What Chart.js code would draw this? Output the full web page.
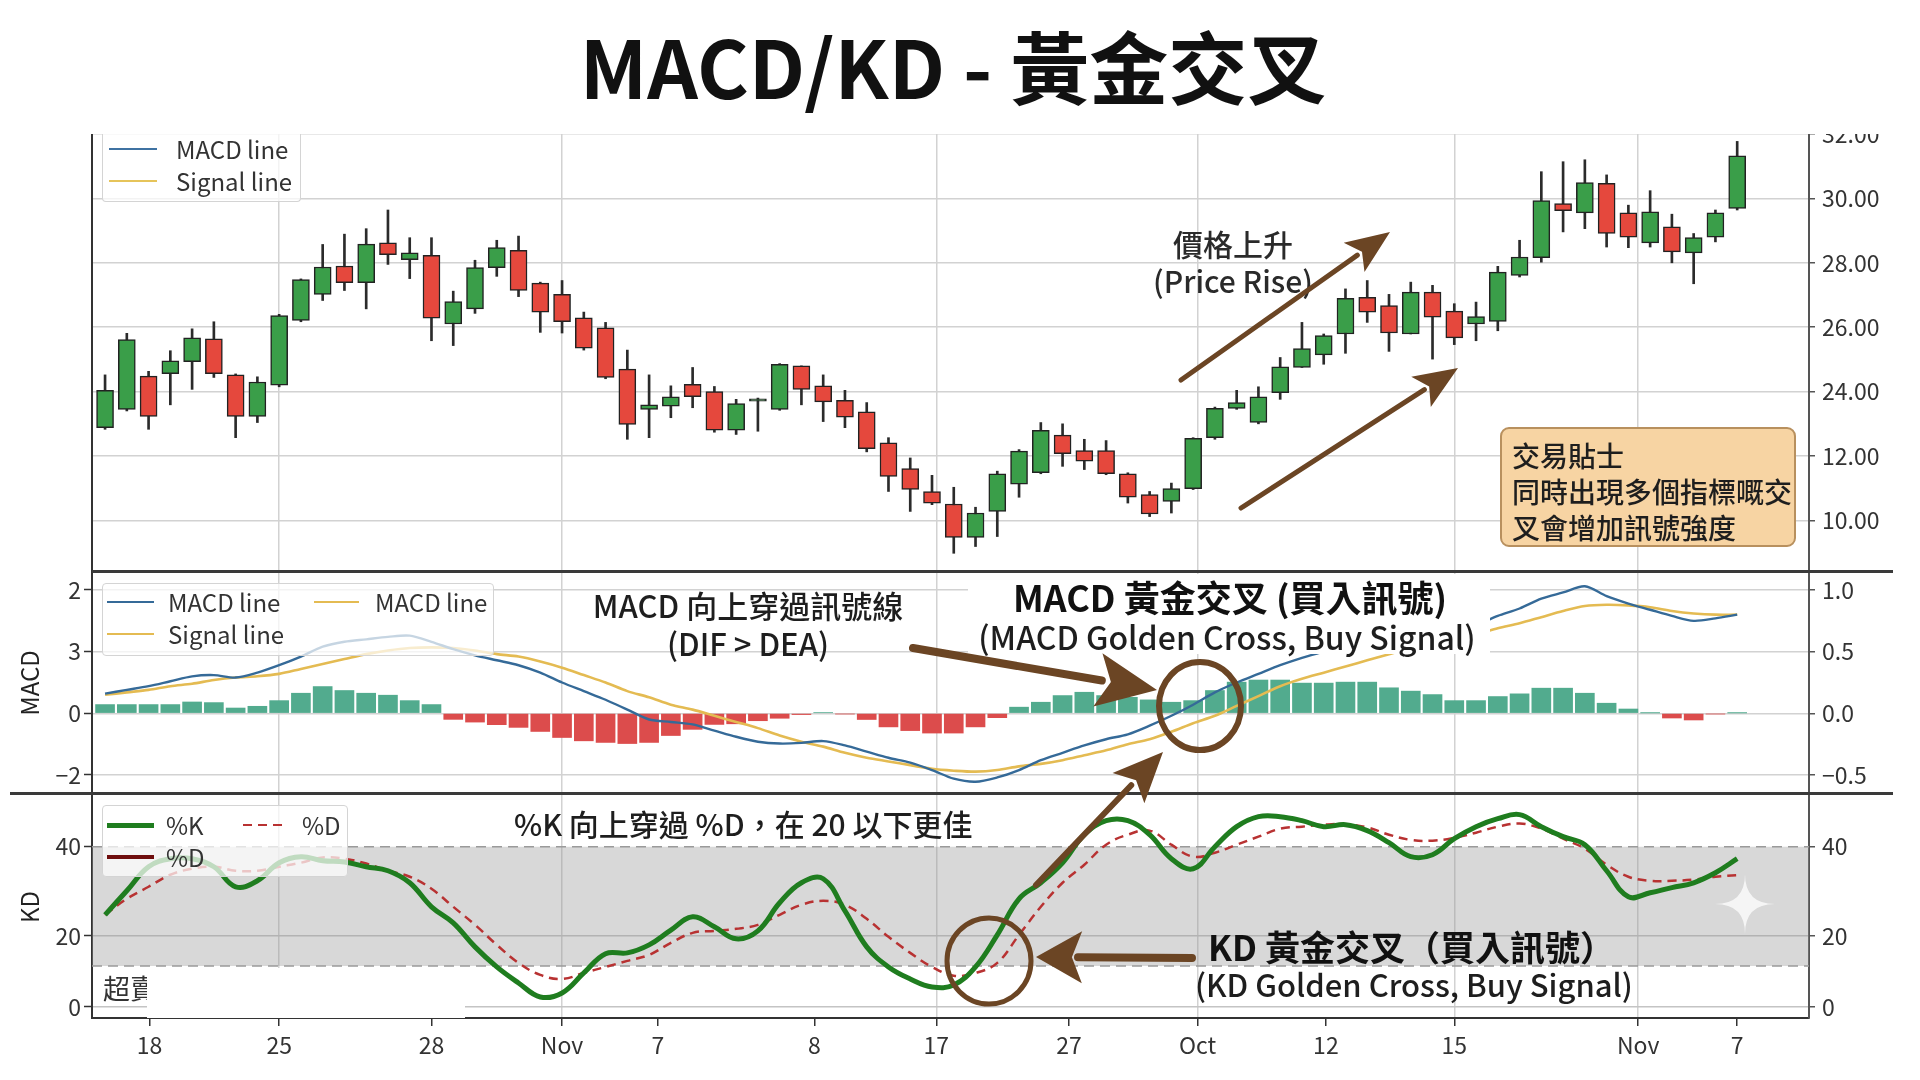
<!DOCTYPE html>
<html>
<head>
<meta charset="utf-8">
<script src="https://cdn.jsdelivr.net/npm/chart.js@4.4.1/dist/chart.umd.min.js"></script>
<style>
body{margin:0;background:#fff;}
#page{position:relative;width:1920px;height:1080px;overflow:hidden;background:#fff;font-family:'Noto Sans CJK TC','Noto Sans',sans-serif;color:#222;}
.pane{position:absolute;left:0;width:1920px;z-index:1;}
.t{position:absolute;white-space:nowrap;line-height:1;z-index:4;}
.lg{position:absolute;background:rgba(255,255,255,0.72);border:1px solid #d4d4d4;border-radius:4px;z-index:3;}
.cover{position:absolute;background:#fff;z-index:2;}
.rule{position:absolute;background:#3a3a3a;z-index:3;}
#tip{position:absolute;left:1500px;top:427px;width:296px;height:120px;background:#f7d4a3;border:2px solid #b8905e;border-radius:9px;z-index:3;box-sizing:border-box;padding:8px 0 0 10px;font-size:28px;line-height:36px;color:#1e1e1e;font-weight:500;}
svg{position:absolute;left:0;top:0;z-index:5;}
</style>
</head>
<body>
<div id="page">
  <div class="pane" style="top:134px;height:437px"><canvas id="priceChart"></canvas></div>
  <div class="pane" style="top:571px;height:222px"><canvas id="macdChart"></canvas></div>
  <div class="pane" style="top:793px;height:287px"><canvas id="kdChart"></canvas></div>
  <div id="tip">交易貼士<br>同時出現多個指標嘅交<br>叉會增加訊號強度</div>
</div>
<script>
// price candles (one per trading day)
const opens  = [22.88,23.45,24.48,24.56,24.93,25.64,24.52,23.23,24.20,26.21,27.02,27.90,27.38,28.62,28.10,28.23,26.10,26.57,27.85,28.39,
                27.37,27.02,26.29,25.98,24.70,23.45,23.55,24.23,24.00,22.80,23.70,23.45,24.80,24.18,23.73,23.37,22.41,21.61,20.90,20.51,
                19.47,20.28,21.13,21.48,22.65,22.17,22.17,21.45,20.80,20.59,20.99,22.57,23.48,23.04,23.97,24.75,25.14,25.79,26.93,26.67,
                25.79,27.09,26.50,26.10,26.18,27.61,28.16,29.84,29.55,30.47,29.55,28.62,29.12,28.31,28.80,29.69];
const highs  = [24.52,25.81,24.63,25.27,25.95,26.17,24.55,24.46,26.40,27.50,28.57,28.89,29.06,29.64,28.78,28.78,27.12,28.08,28.70,28.83,
                27.40,27.45,26.47,26.15,25.29,24.52,24.18,24.75,24.16,23.76,23.80,24.87,24.80,24.52,24.04,23.66,22.57,21.94,21.40,21.03,
                20.41,21.53,22.20,23.04,23.00,22.52,22.48,21.48,20.90,21.16,22.57,23.52,24.04,24.15,25.06,26.15,25.79,27.19,27.45,27.02,
                27.40,27.30,26.73,26.78,27.89,28.70,30.83,31.14,31.20,30.73,29.79,30.24,29.51,28.91,29.64,31.77];
const lows   = [22.83,23.40,22.83,23.59,24.07,24.44,22.57,23.04,24.15,26.17,26.83,27.14,26.57,27.95,27.51,25.58,25.43,26.43,27.58,26.95,
                25.84,25.82,25.29,24.40,22.52,22.57,23.19,23.50,22.74,22.67,22.77,23.42,23.59,23.07,22.88,22.13,20.90,20.28,20.49,18.98,
                19.19,19.50,20.72,21.45,21.68,21.58,21.42,20.54,20.12,20.23,20.96,22.52,23.45,23.00,23.76,24.75,24.85,25.19,26.15,25.25,
                25.79,25.01,25.46,25.58,25.89,27.56,28.02,28.96,29.06,28.49,28.47,28.49,28.00,27.35,28.65,29.64];
const closes = [24.04,25.62,23.23,24.96,25.67,24.56,23.23,24.30,26.36,27.48,27.87,27.38,28.58,28.25,28.31,26.28,26.80,27.85,28.47,27.14,
                26.47,26.17,25.35,24.44,22.98,23.59,23.84,23.84,22.80,23.63,23.78,24.85,24.07,23.68,23.21,22.23,21.37,20.96,20.54,19.47,
                20.23,21.45,22.15,22.80,22.07,21.84,21.45,20.72,20.20,20.99,22.55,23.48,23.66,23.84,24.77,25.34,25.74,26.90,26.47,25.82,
                27.09,26.31,25.67,26.33,27.71,28.18,29.93,29.62,30.49,28.91,28.80,29.58,28.34,28.78,29.55,31.32];

// MACD panel
const macdLine   = [0.16,0.19,0.22,0.26,0.30,0.31,0.29,0.33,0.39,0.46,0.54,0.58,0.60,0.62,0.63,0.58,0.52,0.47,0.43,0.39,
                    0.33,0.25,0.18,0.11,0.03,-0.05,-0.07,-0.09,-0.14,-0.19,-0.23,-0.245,-0.24,-0.225,-0.26,-0.31,-0.36,-0.40,-0.46,-0.53,
                    -0.555,-0.52,-0.46,-0.38,-0.32,-0.26,-0.21,-0.17,-0.10,-0.02,0.07,0.17,0.25,0.32,0.39,0.45,0.50,0.55,0.59,0.62,
                    0.65,0.68,0.70,0.72,0.79,0.85,0.93,0.98,1.03,0.95,0.89,0.84,0.79,0.75,0.77,0.80];
const signalLine = [0.15,0.17,0.19,0.22,0.24,0.27,0.29,0.30,0.32,0.36,0.40,0.44,0.48,0.51,0.53,0.535,0.53,0.51,0.48,0.46,
                    0.42,0.37,0.31,0.25,0.18,0.13,0.07,0.03,-0.02,-0.07,-0.12,-0.18,-0.23,-0.27,-0.32,-0.36,-0.39,-0.42,-0.45,-0.465,
                    -0.473,-0.46,-0.43,-0.41,-0.38,-0.34,-0.30,-0.25,-0.21,-0.15,-0.08,-0.02,0.06,0.14,0.22,0.28,0.33,0.38,0.43,0.48,
                    0.53,0.57,0.61,0.64,0.69,0.73,0.78,0.83,0.87,0.88,0.875,0.86,0.83,0.81,0.80,0.80];
const macdHist   = [0.071,0.071,0.071,0.071,0.092,0.087,0.043,0.057,0.103,0.163,0.217,0.185,0.163,0.147,0.103,0.071,-0.049,-0.071,-0.092,-0.114,
                    -0.147,-0.196,-0.223,-0.236,-0.245,-0.236,-0.18,-0.13,-0.09,-0.085,-0.06,-0.04,-0.01,0.005,-0.005,-0.05,-0.11,-0.14,-0.16,-0.16,
                    -0.11,-0.035,0.05,0.09,0.144,0.171,0.144,0.13,0.109,0.09,0.103,0.185,0.253,0.27,0.27,0.245,0.245,0.253,0.253,0.207,
                    0.18,0.152,0.103,0.103,0.136,0.158,0.204,0.204,0.163,0.082,0.035,0.003,-0.038,-0.054,-0.005,0.003];

// KD panel
const kLine = [23,29,35,37,37,35,30,31.5,36,37.5,36.5,36.2,35,34,31,25,21,15,10,6,
               2.5,3.5,8.5,13.3,13.5,15.5,19.2,22.5,20,17,19,26,31,32,24,15,10,7,5,5.5,
               10,18,27,31,36,43,46.5,46.5,43,37,34.5,40,45,47.5,47.5,46.5,45,45.5,44,41,
               37.5,38,42,45,47,48,45,42.5,40.5,34,27.5,28.5,29.8,31,33.5,37];
const dLine = [23,27,30,33,34.5,35,34,34,35,36,37.3,37,35.8,34,32.5,29.5,25,20.5,15.5,11,
               8,7,8.5,10,11.5,13,16,18.5,19,19.5,20.5,23,25.5,26.5,25.5,22,17.5,13.5,10,7.8,
               8.5,11,18,25,31,35.5,40.5,43,44,40.5,37.5,38.5,40.5,42.5,44.5,45,45.5,45.6,44.8,43,
               41.7,41.5,42.2,43.5,45,45.8,44.5,42,39.5,35.5,32.5,31.5,31.5,31.8,32.5,32.9];
const kdBand = [10.2, 40];

// axes
const xTickPos    = [2.04,8,15,21,25.4,32.6,38.2,44.3,50.2,56.1,62,70.45,75];
const xTickLabels = ['18','25','28','Nov','7','8','17','27','Oct','12','15','Nov','7'];
const xGridOn     = [false,true,false,true,false,false,true,false,true,false,true,true,false];
const priceTicks  = [20,22,24,26,28,30,32];
const priceTickLabels = ['10.00','12.00','24.00','26.00','28.00','30.00','32.00'];
const macdTicks   = [-0.5,0,0.5,1.0];
const macdLeftLabels  = ['\u22122','0','3','2'];
const macdRightLabels = ['\u22120.5','0.0','0.5','1.0'];
const kdTicks     = [0,17.75,40];
const kdTickLabels = ['0','20','40'];

const X_MIN=-0.6, X_MAX=78.3;
const GRID='#d2d2d2', UP='#3a9e49', DOWN='#e5483d', BROWN='#6b4524';
Chart.defaults.font.family="'Noto Sans CJK TC','Noto Sans',sans-serif";
Chart.defaults.color='#333';

function xAxis(showLabels){
    return {type:'linear',min:X_MIN,max:X_MAX,offset:false,
        afterBuildTicks:s=>{s.ticks=xTickPos.map(v=>({value:v}));},
        afterFit:s=>{s.height=showLabels?62:0;s.paddingLeft=0;s.paddingRight=0;},
        ticks:{display:showLabels,autoSkip:false,maxRotation:0,padding:5,font:{size:23},color:'#333',callback:(v,i)=>xTickLabels[i]},
        grid:{offset:false,color:c=>xGridOn[c.index]?GRID:'rgba(0,0,0,0)',lineWidth:1.5,drawTicks:showLabels,tickLength:8,tickColor:'#333',tickWidth:1.5},
        border:{display:showLabels,color:'#333',width:2}};
}
function yAxis(pos,min,max,vals,labels,gridColor){
    let left=pos==='left';
    return {type:'linear',position:pos,min:min,max:max,
        afterBuildTicks:s=>{s.ticks=vals.map(v=>({value:v}));},
        afterFit:s=>{s.width=left?92:111;s.paddingTop=0;s.paddingBottom=0;},
        ticks:{display:!!labels,font:{size:23},color:'#333',padding:left?3:7,callback:(v,i)=>labels?labels[i]:''},
        grid:left?{drawOnChartArea:false,drawTicks:!!labels,tickLength:8,color:'#333',tickWidth:1.5}
                 :{color:gridColor||GRID,lineWidth:1.5,tickLength:6,tickColor:'#555',tickWidth:1.5},
        border:{color:left?'#333':'#555',width:2}};
}
const base={responsive:true,maintainAspectRatio:false,animation:false,devicePixelRatio:1,
    layout:{autoPadding:false,padding:0},plugins:{legend:{display:false},tooltip:{enabled:false}}};

// price candles
new Chart(document.getElementById('priceChart'),{
    type:'bar',
    data:{datasets:[
        {label:'wick',yAxisID:'y',data:lows.map((l,i)=>({x:i,y:[l,highs[i]]})),backgroundColor:'#2b2b2b',barThickness:2,grouped:false,order:2},
        {label:'body',yAxisID:'y',data:opens.map((o,i)=>({x:i,y:[o,closes[i]]})),backgroundColor:opens.map((o,i)=>closes[i]>=o?UP:DOWN),
         borderColor:'#222',borderWidth:1.5,borderSkipped:false,barThickness:17,grouped:false,order:1}
    ]},
    options:{...base,scales:{x:xAxis(false),y:yAxis('right',18.43,32,priceTicks,priceTickLabels),yl:yAxis('left',0,1,[],null)}}
});

// MACD
new Chart(document.getElementById('macdChart'),{
    type:'bar',
    data:{datasets:[
        {label:'hist',yAxisID:'y',data:macdHist.map((v,i)=>({x:i,y:v})),backgroundColor:macdHist.map(v=>v>=0?'#52ab8e':'#dc4c4c'),barThickness:19,grouped:false,order:3},
        {type:'line',yAxisID:'y',label:'Signal line',data:signalLine.map((v,i)=>({x:i,y:v})),borderColor:'#e4bb52',borderWidth:2.6,pointRadius:0,tension:0.3,order:2},
        {type:'line',yAxisID:'y',label:'MACD line',data:macdLine.map((v,i)=>({x:i,y:v})),borderColor:'#356a98',borderWidth:2.4,pointRadius:0,tension:0.3,order:1}
    ]},
    options:{...base,scales:{x:xAxis(false),
        y:yAxis('right',-0.646,1.154,macdTicks,macdRightLabels),
        yl:yAxis('left',-0.646,1.154,macdTicks,macdLeftLabels)}}
});

// KD
new Chart(document.getElementById('kdChart'),{
    type:'line',
    data:{datasets:[
        {label:'band',yAxisID:'y',data:[{x:X_MIN,y:kdBand[1]},{x:X_MAX,y:kdBand[1]}],borderColor:'#9a9a9a',borderDash:[10,6],borderWidth:1.5,
         fill:{value:kdBand[0]},backgroundColor:'rgba(150,150,150,0.37)',pointRadius:0,order:5},
        {label:'low',yAxisID:'y',data:[{x:X_MIN,y:kdBand[0]},{x:X_MAX,y:kdBand[0]}],borderColor:'#9a9a9a',borderDash:[10,6],borderWidth:1.5,pointRadius:0,order:4},
        {label:'%D',yAxisID:'y',data:dLine.map((v,i)=>({x:i,y:v})),borderColor:'#b83232',borderDash:[9,6],borderWidth:2.5,pointRadius:0,tension:0.4,order:2},
        {label:'%K',yAxisID:'y',data:kLine.map((v,i)=>({x:i,y:v})),borderColor:'#1f7d1f',borderWidth:5,pointRadius:0,tension:0.4,order:1}
    ]},
    options:{...base,scales:{x:xAxis(true),
        y:yAxis('right',-2.75,53.4,kdTicks,kdTickLabels,c=>c.index===2?'rgba(0,0,0,0)':'#c4c4c4'),
        yl:yAxis('left',-2.75,53.4,kdTicks,kdTickLabels)}}
});

// ---- overlays: text, legends, annotations ----
const page=document.getElementById('page');
function el(cls,css,html){let d=document.createElement('div');d.className=cls;d.style.cssText=css;if(html!=null)d.innerHTML=html;page.appendChild(d);return d;}
function txt(s,x,y,size,extra,anchor){
    let tr=anchor==='left'?'translate(0,-50%)':'translate(-50%,-50%)';
    return el('t',`left:${x}px;top:${y}px;font-size:${size}px;transform:${tr};${extra||''}`,s);
}
function sample(x,y,len,color,w,dash){
    let bg=dash?`background:repeating-linear-gradient(90deg,${color} 0 9px,transparent 9px 15px);`:`background:${color};`;
    return el('t',`left:${x}px;top:${y-w/2}px;width:${len}px;height:${w}px;${bg}z-index:4;`,'');
}

// title
txt('MACD/KD - 黃金交叉',953,64,79,'font-weight:700;color:#111;');

// dividers and covers
el('rule','left:92px;top:570px;width:1801px;height:3px;');
el('rule','left:10px;top:792px;width:1883px;height:3px;');
el('cover','left:147px;top:968px;width:318px;height:50px;');
el('cover','left:968px;top:574px;width:522px;height:80px;');

// price legend
el('lg','left:102px;top:134px;width:197px;height:67px;border-top:none;border-radius:0 0 4px 4px;');
sample(109,149,48,'#3f72a2',2.5); txt('MACD line',176,149,24,'color:#333;','left');
sample(109,181,48,'#e6c45a',2.5); txt('Signal line',176,181,24,'color:#333;','left');

// MACD legend
el('lg','left:102px;top:583px;width:390px;height:71px;');
sample(107,602,47,'#356a98',2.5); txt('MACD line',168,602,24,'color:#333;','left');
sample(107,634,47,'#e4bb52',2.5); txt('Signal line',168,634,24,'color:#333;','left');
sample(314,602,45,'#e4bb52',2.5); txt('MACD line',375,602,24,'color:#333;','left');

// KD legend
el('lg','left:102px;top:805px;width:244px;height:70px;');
sample(107,825,47,'#1f7d1f',5); txt('%K',166,825,24,'color:#333;','left');
sample(107,857,47,'#6e0d0d',4); txt('%D',166,857,24,'color:#333;','left');
sample(243,825,45,'#b83232',2.5,true); txt('%D',302,825,24,'color:#333;','left');

// axis titles and side note
txt('MACD',29,683,24,'transform:translate(-50%,-50%) rotate(-90deg);color:#222;');
txt('KD',29,907,24,'transform:translate(-50%,-50%) rotate(-90deg);color:#222;');
txt('超賣',103,987,27,'color:#333;z-index:1;','left');

// annotations
const M='font-weight:500;';
txt('價格上升',1233,243,30,M+'color:#2a2a2a;');
txt('(Price Rise)',1233,280,30,M+'color:#2a2a2a;');
txt('MACD 向上穿過訊號線',748,604,31,M+'color:#1e1e1e;');
txt('(DIF &gt; DEA)',748,642,31,M+'color:#1e1e1e;');
txt('MACD 黃金交叉 (買入訊號)',1230,596,36,'font-weight:700;color:#111;');
txt('(MACD Golden Cross, Buy Signal)',1227,636,32,M+'color:#1e1e1e;');
txt('%K 向上穿過 %D，在 20 以下更佳',514,823,30,M+'color:#1e1e1e;','left');
txt('KD 黃金交叉（買入訊號）',1208,945,35,'font-weight:700;color:#111;','left');
txt('(KD Golden Cross, Buy Signal)',1195,983,31,M+'color:#1e1e1e;','left');

// arrows and circles
const NS='http://www.w3.org/2000/svg';
const svg=document.createElementNS(NS,'svg');
svg.setAttribute('width',1920);svg.setAttribute('height',1080);
page.appendChild(svg);
function add(tag,attrs){let e=document.createElementNS(NS,tag);for(let k in attrs)e.setAttribute(k,attrs[k]);svg.appendChild(e);return e;}
function arrow(x1,y1,x2,y2,w,hl,hw){
    let dx=x2-x1,dy=y2-y1,L=Math.hypot(dx,dy),ux=dx/L,uy=dy/L,px=-uy,py=ux;
    let bx=x2-ux*hl,by=y2-uy*hl;
    add('line',{x1:x1,y1:y1,x2:bx+ux*4,y2:by+uy*4,stroke:BROWN,'stroke-width':w,'stroke-linecap':'round'});
    add('polygon',{points:`${x2},${y2} ${bx+px*hw/2},${by+py*hw/2} ${bx+ux*hl*0.22},${by+uy*hl*0.22} ${bx-px*hw/2},${by-py*hw/2}`,fill:BROWN});
}
arrow(1181,380,1390,232,5,44,36);
arrow(1241,508,1458,368,5,44,36);
arrow(913,648,1157,690,8,60,54);
arrow(1036,885,1163,752,6,50,44);
arrow(1192,958,1036,957,8,46,52);
add('ellipse',{cx:1200,cy:706,rx:41,ry:44,fill:'none',stroke:BROWN,'stroke-width':6});
add('ellipse',{cx:989,cy:961,rx:42,ry:43,fill:'none',stroke:BROWN,'stroke-width':5});
add('path',{d:'M1745,874 Q1745,904 1775,904 Q1745,904 1745,934 Q1745,904 1715,904 Q1745,904 1745,874 Z',fill:'rgba(255,255,255,0.75)'});
</script>
</body>
</html>
